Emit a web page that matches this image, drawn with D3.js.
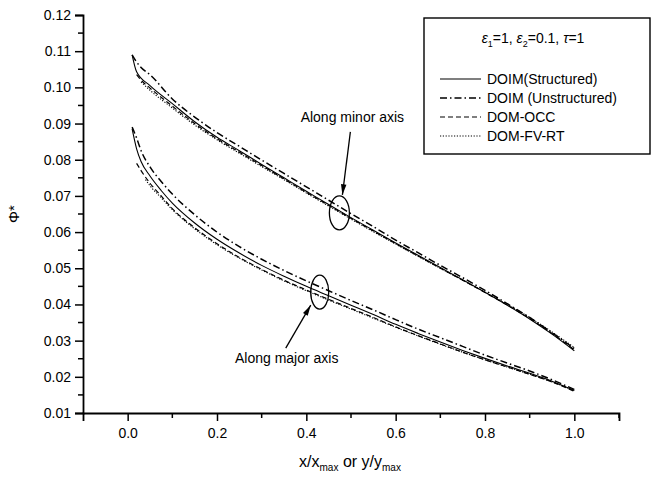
<!DOCTYPE html>
<html><head><meta charset="utf-8">
<script src="https://cdn.jsdelivr.net/npm/d3@7"></script>
<style>body{margin:0;background:#fff}svg{display:block;font-family:"Liberation Sans",Arial,sans-serif}</style>
</head><body><svg id="c" width="658" height="486"></svg>
<script>
// ---- data ----
const xTicks = [0.0, 0.2, 0.4, 0.6, 0.8, 1.0];
const yTicks = [0.01,0.02,0.03,0.04,0.05,0.06,0.07,0.08,0.09,0.10,0.11,0.12];
const seriesNames = ["DOIM(Structured)", "DOIM (Unstructured)", "DOM-OCC", "DOM-FV-RT"];

// Along minor axis
const minorX_struct = [0.01,0.02,0.05,0.1,0.15,0.2,0.25,0.3,0.35,0.4,0.45,0.5,0.55,0.6,0.65,0.7,0.75,0.8,0.85,0.9,0.95,1.0];
const minorY_struct = [0.1090,0.1043,0.1005,0.0955,0.0905,0.0862,0.0825,0.0787,0.0750,0.0713,0.0676,0.0640,0.0605,0.0570,0.0536,0.0502,0.0468,0.0434,0.0398,0.0360,0.0318,0.0272];
const minorX_unstr = [0.01,0.02,0.03,0.05,0.1,0.15,0.2,0.25,0.3,0.35,0.4,0.45,0.5,0.55,0.6,0.65,0.7,0.75,0.8,0.85,0.9,0.95,1.0];
const minorY_unstr = [0.1090,0.1070,0.1055,0.1035,0.0968,0.0918,0.0875,0.0837,0.0799,0.0762,0.0725,0.0688,0.0651,0.0615,0.0578,0.0543,0.0508,0.0474,0.0439,0.0402,0.0364,0.0322,0.0278];
const minorX_occ = [0.02,0.03,0.05,0.1,0.15,0.2,0.25,0.3,0.35,0.4,0.45,0.5,0.55,0.6,0.65,0.7,0.75,0.8,0.85,0.9,0.95,1.0];
const minorY_occ = [0.1035,0.1020,0.0998,0.0948,0.0900,0.0858,0.0821,0.0784,0.0747,0.0710,0.0674,0.0638,0.0603,0.0568,0.0534,0.0500,0.0467,0.0433,0.0398,0.0361,0.0320,0.0275];
const minorX_fv = [0.03,0.05,0.1,0.15,0.2,0.25,0.3,0.35,0.4,0.45,0.5,0.55,0.6,0.65,0.7,0.75,0.8,0.85,0.9,0.95,1.0];
const minorY_fv = [0.1015,0.0992,0.0943,0.0896,0.0855,0.0818,0.0781,0.0745,0.0708,0.0672,0.0636,0.0601,0.0567,0.0533,0.0500,0.0467,0.0434,0.0400,0.0364,0.0324,0.0281];

// Along major axis
const majorX_struct = [0.01,0.02,0.03,0.05,0.075,0.1,0.15,0.2,0.25,0.3,0.35,0.4,0.45,0.5,0.55,0.6,0.65,0.7,0.75,0.8,0.85,0.9,0.95,1.0];
const majorY_struct = [0.0885,0.0830,0.0795,0.0755,0.0715,0.0680,0.0625,0.0580,0.0542,0.0508,0.0478,0.0450,0.0424,0.0398,0.0372,0.0345,0.0320,0.0296,0.0273,0.0251,0.0230,0.0210,0.0188,0.0162];
const majorX_unstr = [0.01,0.02,0.03,0.05,0.075,0.1,0.15,0.2,0.25,0.3,0.35,0.4,0.45,0.5,0.55,0.6,0.65,0.7,0.75,0.8,0.85,0.9,0.95,1.0];
const majorY_unstr = [0.0890,0.0860,0.0825,0.0780,0.0740,0.0705,0.0648,0.0600,0.0560,0.0525,0.0494,0.0465,0.0438,0.0411,0.0385,0.0358,0.0332,0.0308,0.0284,0.0260,0.0238,0.0216,0.0192,0.0165];
const majorX_occ = [0.02,0.03,0.05,0.075,0.1,0.15,0.2,0.25,0.3,0.35,0.4,0.45,0.5,0.55,0.6,0.65,0.7,0.75,0.8,0.85,0.9,0.95,1.0];
const majorY_occ = [0.0790,0.0770,0.0735,0.0700,0.0665,0.0612,0.0568,0.0530,0.0497,0.0467,0.0440,0.0414,0.0389,0.0364,0.0338,0.0314,0.0291,0.0268,0.0247,0.0227,0.0207,0.0186,0.0160];
const majorX_fv = [0.04,0.05,0.075,0.1,0.15,0.2,0.25,0.3,0.35,0.4,0.45,0.5,0.55,0.6,0.65,0.7,0.75,0.8,0.85,0.9,0.95,1.0];
const majorY_fv = [0.0745,0.0728,0.0695,0.0662,0.0609,0.0565,0.0528,0.0495,0.0465,0.0438,0.0412,0.0387,0.0362,0.0337,0.0313,0.0290,0.0268,0.0247,0.0227,0.0207,0.0186,0.0162];

// annotation anchors (data coords)
const minorMark = [0.474, 0.0653];
const majorMark = [0.43, 0.0434];

// ---- drawing ----
const svg = d3.select("#c");
const x = d3.scaleLinear().domain([-0.1, 1.1]).range([83, 619]);
const y = d3.scaleLinear().domain([0.01, 0.12]).range([413, 15]);
const dashes = ["none", "7,3,1.5,3", "5,3", "1.2,1.6"];
const widths = [1.1, 1.5, 1.2, 1.1];

// axes
const xAxis = d3.axisBottom(x).tickValues(xTicks).tickFormat(d3.format(".1f")).tickSizeOuter(0).tickSize(8).tickPadding(7);
const gx = svg.append("g").attr("transform", "translate(0,413)").call(xAxis);
gx.append("g").selectAll("line").data([0.1,0.3,0.5,0.7,0.9,1.1]).join("line")
  .attr("x1", d => x(d)).attr("x2", d => x(d)).attr("y1", 0).attr("y2", 5).attr("stroke", "#000").attr("stroke-width", 1.5);
const yAxis = d3.axisLeft(y).tickValues(yTicks).tickFormat(d3.format(".2f")).tickSizeOuter(0).tickSize(8).tickPadding(4);
const gy = svg.append("g").attr("transform", "translate(83,0)").call(yAxis);
gy.append("g").selectAll("line").data(d3.range(0.015, 0.12, 0.01)).join("line")
  .attr("x1", 0).attr("x2", -5).attr("y1", d => y(d)).attr("y2", d => y(d)).attr("stroke", "#000").attr("stroke-width", 1.5);
[gx, gy].forEach(g => {
  g.selectAll(".domain").attr("stroke", "#000").attr("stroke-width", 1.8);
  g.selectAll(".tick line").attr("stroke-width", 1.5);
  g.selectAll("text").attr("font-size", 14).attr("font-family", "Liberation Sans, Arial, sans-serif").attr("fill", "#000");
});

// axis labels
svg.append("text").attr("transform", "translate(19,214) rotate(-90)").attr("text-anchor", "middle")
  .attr("font-size", 15).text("Φ*");
const xl = svg.append("text").attr("x", 350).attr("y", 467).attr("text-anchor", "middle").attr("font-size", 16);
xl.append("tspan").text("x/x");
xl.append("tspan").attr("font-size", 10).attr("dy", 4).text("max");
xl.append("tspan").attr("dy", -4).text(" or  y/y");
xl.append("tspan").attr("font-size", 10).attr("dy", 4).text("max");

// curves
const line = d3.line().x(d => x(d[0])).y(d => y(d[1])).curve(d3.curveMonotoneX);
const groups = [
  [minorX_struct, minorY_struct, 0], [minorX_unstr, minorY_unstr, 1], [minorX_occ, minorY_occ, 2], [minorX_fv, minorY_fv, 3],
  [majorX_struct, majorY_struct, 0], [majorX_unstr, majorY_unstr, 1], [majorX_occ, majorY_occ, 2], [majorX_fv, majorY_fv, 3]
];
groups.forEach(([xs, ys, k]) => {
  svg.append("path").datum(xs.map((v, i) => [v, ys[i]])).attr("d", line)
    .attr("fill", "none").attr("stroke", "#000").attr("stroke-width", widths[k])
    .attr("stroke-dasharray", dashes[k]);
});

// annotations
function arrow(x1, y1, x2, y2) {
  svg.append("line").attr("x1", x1).attr("y1", y1).attr("x2", x2).attr("y2", y2).attr("stroke", "#000").attr("stroke-width", 1.3);
  const a = Math.atan2(y2 - y1, x2 - x1), L = 11, w = 0.25;
  svg.append("path").attr("d", `M${x2},${y2} L${x2 - L*Math.cos(a - w)},${y2 - L*Math.sin(a - w)} L${x2 - L*Math.cos(a + w)},${y2 - L*Math.sin(a + w)} Z`).attr("fill", "#000");
}
const mx = x(minorMark[0]), my = y(minorMark[1]);
svg.append("ellipse").attr("cx", mx).attr("cy", my).attr("rx", 10).attr("ry", 17).attr("fill", "none").attr("stroke", "#000").attr("stroke-width", 1.3);
arrow(mx + 11, my - 81, mx + 3, my - 18);
svg.append("text").attr("x", mx + 13).attr("y", my - 91).attr("text-anchor", "middle").attr("font-size", 14).text("Along minor axis");

const jx = x(majorMark[0]), jy = y(majorMark[1]);
svg.append("ellipse").attr("cx", jx).attr("cy", jy).attr("rx", 9).attr("ry", 17).attr("fill", "none").attr("stroke", "#000").attr("stroke-width", 1.3);
arrow(jx - 34, jy + 56, jx - 9, jy + 13);
svg.append("text").attr("x", jx - 33).attr("y", jy + 71).attr("text-anchor", "middle").attr("font-size", 14).text("Along major axis");

// legend
const lg = svg.append("g");
lg.append("rect").attr("x", 424).attr("y", 18).attr("width", 226).attr("height", 136).attr("fill", "#fff").attr("stroke", "#000").attr("stroke-width", 1.4);
const t = lg.append("text").attr("x", 533).attr("y", 43).attr("text-anchor", "middle").attr("font-size", 14);
t.append("tspan").attr("font-style", "italic").text("ε");
t.append("tspan").attr("font-size", 9).attr("dy", 4).text("1");
t.append("tspan").attr("dy", -4).text("=1, ");
t.append("tspan").attr("font-style", "italic").text("ε");
t.append("tspan").attr("font-size", 9).attr("dy", 4).text("2");
t.append("tspan").attr("dy", -4).text("=0.1, ");
t.append("tspan").attr("font-style", "italic").text("τ");
t.append("tspan").text("=1");
seriesNames.forEach((n, i) => {
  const yy = 79 + i * 19;
  lg.append("line").attr("x1", 440).attr("x2", 481).attr("y1", yy).attr("y2", yy).attr("stroke", "#000")
    .attr("stroke-width", widths[i]).attr("stroke-dasharray", dashes[i]);
  lg.append("text").attr("x", 487).attr("y", yy + 5).attr("font-size", 14).text(n);
});
</script></body></html>
